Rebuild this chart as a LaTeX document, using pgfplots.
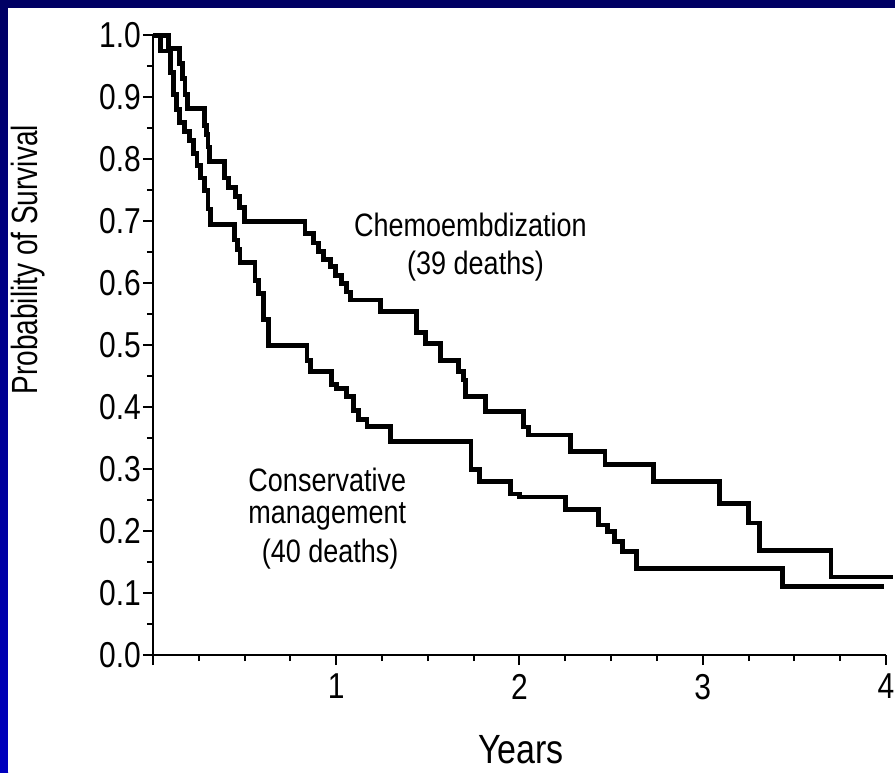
\documentclass[border=0pt]{standalone}
\usepackage{pgfplots}
\pgfplotsset{compat=1.18}
\usepackage{fontspec}
\setmainfont{Liberation Sans}
\usepackage{graphicx}
\definecolor{navybg}{RGB}{0,0,100}
\definecolor{leftblue}{RGB}{0,0,190}
\newcommand{\tl}[1]{\scalebox{1}[1.2]{#1}}
\begin{document}
\begin{tikzpicture}
\useasboundingbox (0,0) rectangle (447.5pt,386pt);
\fill[navybg] (0,0) rectangle (447.5pt,386pt);
\shade[top color=navybg, bottom color=leftblue] (0,0) rectangle (4pt,386pt);
\fill[white] (4pt,0) rectangle (447.5pt,382pt);
\begin{axis}[
  at={(76.5pt,58.5pt)}, anchor=south west,
  scale only axis, width=366.5pt, height=309.75pt,
  xmin=0, xmax=4, ymin=0, ymax=1,
  axis lines*=left,
  axis line style={line width=1.4pt,-},
  clip=false,
  xtick={0,1,2,3,4}, xticklabels={,\tl{1},\tl{2},\tl{3},\tl{4}}, minor x tick num=3,
  ytick={0,0.1,0.2,0.3,0.4,0.5,0.6,0.7,0.8,0.9,1.0}, minor y tick num=1,
  yticklabel={\tl{\pgfmathprintnumber[fixed,fixed zerofill,precision=1]{\tick}}},
  /pgf/number format/assume math mode=true,
  tick align=outside,
  major tick length=5pt, minor tick length=3pt,
  tick style={line width=1pt, black},
  every tick label/.append style={font=\fontsize{15}{18}\selectfont, black},
  xticklabel style={yshift=-1pt},
  yticklabel style={xshift=2.5pt},
  ylabel={\scalebox{1}[1.3]{Probability of Survival}},
  ylabel style={at={(axis description cs:-0.1705,0.638)}, anchor=center, font=\fontsize{14}{16}\selectfont},
  xlabel={\tl{Years}},
  xlabel style={at={(axis description cs:0.502,-0.153)}, anchor=center, font=\fontsize{17}{20}\selectfont},
]
% Chemoembolization
\addplot[const plot, line width=2.4pt, black] coordinates {
(0,1.0) (0.083,0.979) (0.145,0.955) (0.16,0.93) (0.175,0.905) (0.19,0.882)
(0.28,0.855) (0.29,0.84) (0.30,0.82) (0.31,0.797) (0.39,0.77) (0.41,0.755)
(0.45,0.74) (0.47,0.722) (0.50,0.70) (0.83,0.68) (0.876,0.665) (0.904,0.651)
(0.93,0.638) (0.967,0.627) (0.995,0.613) (1.03,0.60) (1.058,0.586) (1.077,0.573)
(1.24,0.554) (1.44,0.52) (1.486,0.503) (1.568,0.476) (1.668,0.457) (1.696,0.444)
(1.705,0.417) (1.814,0.393) (2.02,0.368) (2.05,0.355) (2.28,0.328) (2.467,0.307)
(2.73,0.28) (3.09,0.245) (3.25,0.213) (3.31,0.169) (3.70,0.126) (4.04,0.126)
};
% Conservative management
\addplot[const plot, line width=2.4pt, black] coordinates {
(0,1.0) (0.04,0.975) (0.095,0.94) (0.11,0.905) (0.13,0.88) (0.145,0.86)
(0.17,0.845) (0.20,0.83) (0.22,0.81) (0.24,0.79) (0.26,0.77) (0.28,0.75)
(0.30,0.72) (0.315,0.695) (0.445,0.67) (0.46,0.655) (0.475,0.633) (0.557,0.605)
(0.575,0.584) (0.603,0.541) (0.63,0.50) (0.84,0.476) (0.86,0.457) (0.976,0.436)
(1.0,0.43) (1.058,0.417) (1.095,0.395) (1.12,0.38) (1.168,0.369) (1.295,0.344)
(1.735,0.30) (1.78,0.28) (1.953,0.26) (2.0,0.255) (2.25,0.235) (2.43,0.21)
(2.48,0.199) (2.52,0.183) (2.56,0.167) (2.64,0.14) (3.435,0.11) (3.99,0.11)
};
\node[font=\fontsize{13.5}{16}\selectfont] at (axis cs:1.732,0.694) {\tl{Chemoembdization}};
\node[font=\fontsize{13.5}{16}\selectfont] at (axis cs:1.76,0.628) {\tl{(39 deaths)}};
\node[font=\fontsize{13.5}{16}\selectfont] at (axis cs:0.951,0.282) {\tl{Conservative}};
\node[font=\fontsize{13.5}{16}\selectfont] at (axis cs:0.951,0.223) {\tl{management}};
\node[font=\fontsize{13.5}{16}\selectfont] at (axis cs:0.967,0.163) {\tl{(40 deaths)}};
\end{axis}
\end{tikzpicture}
\end{document}
